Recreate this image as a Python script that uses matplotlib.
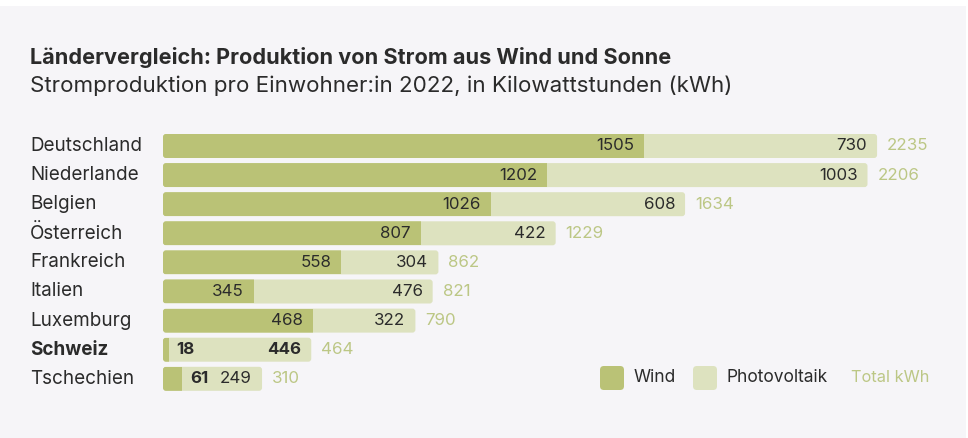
import matplotlib
matplotlib.use("Agg")
import matplotlib.pyplot as plt
import matplotlib.patches as patches

plt.rcParams["font.family"] = ["Inter", "DejaVu Sans"]

# data (kWh pro Einwohner:in, 2022)
countries = ["Deutschland", "Niederlande", "Belgien", "Österreich", "Frankreich",
             "Italien", "Luxemburg", "Schweiz", "Tschechien"]
wind = [1505, 1202, 1026, 807, 558, 345, 468, 18, 61]
pv = [730, 1003, 608, 422, 304, 476, 322, 446, 249]
total = [2235, 2206, 1634, 1229, 862, 821, 790, 464, 310]
# Italien bars are drawn longer than the printed numbers in the original
bar_override = {"Italien": (285, 559)}

highlight = "Schweiz"

WIND_C = "#bac276"
PV_C = "#dde2bf"
TOTAL_C = "#bcc785"
TEXT_C = "#2b2b2b"
BG = "#f6f5f8"

W, H = 968, 438
fig = plt.figure(figsize=(W / 100, H / 100), dpi=100)
fig.patch.set_facecolor("white")
fig.add_artist(patches.Rectangle((0, 0), 966 / W, 432 / H, transform=fig.transFigure,
                                 facecolor=BG, edgecolor="none", zorder=-10))

# axes placed so that x=0 sits at px 163, rows every 29.1 px starting at px 146
x0_px, px_per_unit = 163, 0.3195
row0_px, row_px = 146, 29.1
ax = fig.add_axes([x0_px / W, 0, 1 - x0_px / W, 1])
ax.set_xlim(0, (W - x0_px) / px_per_unit)
ax.set_ylim((H - row0_px) / row_px, -row0_px / row_px)
ax.axis("off")

bar_h = 24 / row_px
rx = 3 / px_per_unit
aspect = (3 / row_px) / rx
pad = 7.2  # points, = 10 px
VAL_FS = 12.2

for i, c in enumerate(countries):
    w, p = bar_override.get(c, (wind[i], pv[i]))
    bold = "bold" if c == highlight else "normal"
    outer = patches.FancyBboxPatch((0, i - bar_h / 2), w + p, bar_h,
                                   boxstyle=f"round,pad=0,rounding_size={rx}",
                                   mutation_aspect=aspect, facecolor=PV_C,
                                   edgecolor="none")
    ax.add_patch(outer)
    bars = ax.barh(i, w, height=bar_h, color=WIND_C, linewidth=0)
    for b in bars:
        b.set_clip_path(outer)

    # wind value: inside if it fits, else just right of the wind part
    if w > 150:
        ax.annotate(str(wind[i]), (w, i), xytext=(-pad, 0), textcoords="offset points",
                    ha="right", va="center", fontsize=VAL_FS, color=TEXT_C, fontweight=bold)
    else:
        ax.annotate(str(wind[i]), (w, i), xytext=(5.5, 0), textcoords="offset points",
                    ha="left", va="center", fontsize=VAL_FS, color=TEXT_C, fontweight="bold")
    ax.annotate(str(pv[i]), (w + p, i), xytext=(-pad, 0), textcoords="offset points",
                ha="right", va="center", fontsize=VAL_FS, color=TEXT_C, fontweight=bold)
    ax.annotate(str(total[i]), (w + p, i), xytext=(pad, 0), textcoords="offset points",
                ha="left", va="center", fontsize=VAL_FS, color=TOTAL_C)
    fig.text(30 / W, 1 - (row0_px + i * row_px) / H, c, ha="left", va="center",
             fontsize=13.6, color=TEXT_C, fontweight=bold)

fig.text(30 / W, 1 - 57 / H, "Ländervergleich: Produktion von Strom aus Wind und Sonne",
         ha="left", va="center", fontsize=15.6, fontweight="bold", color=TEXT_C)
fig.text(30 / W, 1 - 86 / H, "Stromproduktion pro Einwohner:in 2022, in Kilowattstunden (kWh)",
         ha="left", va="center", fontsize=16.1, color=TEXT_C)

# legend
ly = 1 - 378 / H
for x, col, lab in [(600, WIND_C, "Wind"), (693, PV_C, "Photovoltaik")]:
    fig.add_artist(patches.FancyBboxPatch((x / W, (H - 390) / H), 24 / W, 24 / H,
                                          boxstyle="round,pad=0,rounding_size=0.004",
                                          transform=fig.transFigure, facecolor=col,
                                          edgecolor="none", mutation_aspect=W / H))
    fig.text((x + 34) / W, ly, lab, ha="left", va="center", fontsize=12.5, color=TEXT_C)
fig.text(851 / W, ly, "Total kWh", ha="left", va="center", fontsize=11.8, color=TOTAL_C)

fig.savefig("out.png", dpi=100, facecolor=fig.get_facecolor())
